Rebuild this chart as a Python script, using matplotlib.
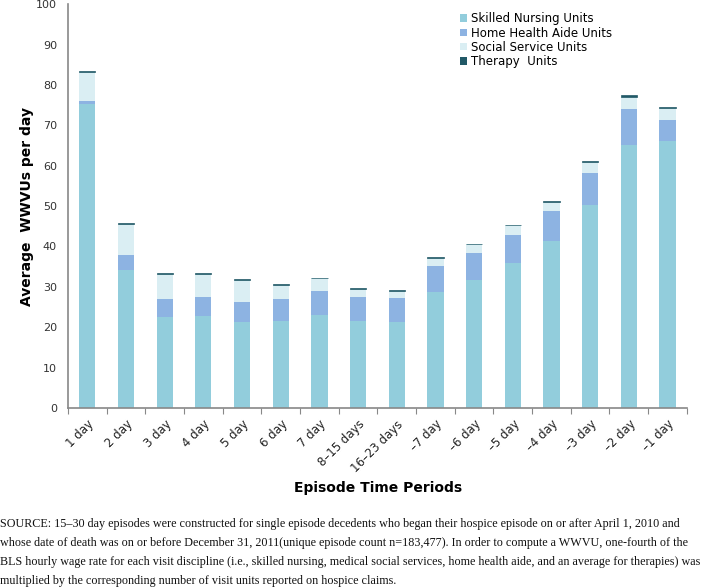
import numpy as np
import matplotlib
matplotlib.use("Agg")
import matplotlib.pyplot as plt
from matplotlib.patches import Patch

periods = ["1 day", "2 day", "3 day", "4 day", "5 day", "6 day", "7 day",
           "8\u201315 days", "16\u201323 days", "\u20137 day", "\u20136 day",
           "\u20135 day", "\u20134 day", "\u20133 day", "\u20132 day", "\u20131 day"]

# stacked segments
skilled = [75.3, 34.2, 22.6, 22.8, 21.3, 21.5, 23.0, 21.6, 21.4, 28.7, 31.7, 35.9, 41.3, 50.2, 65.1, 66.1]
home_aide = [0.7, 3.7, 4.3, 4.7, 5.0, 5.4, 6.1, 5.9, 5.9, 6.4, 6.7, 7.0, 7.4, 8.0, 8.9, 5.2]
social = [7.3, 7.6, 6.2, 5.8, 5.4, 3.5, 3.0, 2.0, 1.7, 2.1, 2.1, 2.3, 2.4, 2.8, 3.1, 3.1]
therapy = [0.25, 0.25, 0.25, 0.2, 0.2, 0.2, 0.2, 0.2, 0.2, 0.2, 0.2, 0.2, 0.2, 0.2, 0.3, 0.2]

series = [("Skilled Nursing Units", skilled, "#92CDDC"),
          ("Home Health Aide Units", home_aide, "#8DB3E2"),
          ("Social Service Units", social, "#DAEEF3"),
          ("Therapy  Units", therapy, "#215967")]

footnote = [
    "SOURCE: 15\u201330 day episodes were constructed for single episode decedents who began their hospice episode on or after April 1, 2010 and",
    "whose date of death was on or before December 31, 2011(unique episode count n=183,477). In order to compute a WWVU, one-fourth of the",
    "BLS hourly wage rate for each visit discipline (i.e., skilled nursing, medical social services, home health aide, and an average for therapies) was",
    "multiplied by the corresponding number of visit units reported on hospice claims.",
]

fig = plt.figure(figsize=(7.04, 5.88), dpi=100)
ax = fig.add_axes([0.0966, 0.306, 0.879, 0.687])

x = np.arange(len(periods))
bottom = np.zeros(len(periods))
for name, vals, col in series:
    lw = 0.5 if name.startswith("Therapy") else 0
    ax.bar(x, vals, width=0.42, bottom=bottom, color=col, label=name,
           edgecolor=col, linewidth=lw)
    bottom += np.array(vals)

ax.set_xlim(-0.5, len(periods) - 0.5)
ax.set_ylim(0, 100)
ax.set_yticks(range(0, 101, 10))
ax.tick_params(axis="y", length=0, labelsize=8, colors="#333333", pad=8)

# category boundaries get the tick marks, labels sit at bar centres
ax.set_xticks(np.arange(-0.5, len(periods) + 0.5, 1))
ax.set_xticklabels([])
ax.tick_params(axis="x", which="major", length=4, color="#888888", direction="out")
ax.set_xticks(x, minor=True)
ax.set_xticklabels(periods, minor=True, rotation=45, ha="right", rotation_mode="anchor",
                   fontsize=8.5, color="#222222")
ax.tick_params(axis="x", which="minor", length=0, pad=7)

for s in ["top", "right"]:
    ax.spines[s].set_visible(False)
for s in ["left", "bottom"]:
    ax.spines[s].set_color("#888888")
    ax.spines[s].set_linewidth(1.2)

ax.set_ylabel("Average  WWVUs per day", fontsize=10, fontweight="bold")
ax.yaxis.set_label_coords(-0.055, 0.5)
fig.text(0.537, 1 - 488 / 588, "Episode Time Periods", fontsize=10, fontweight="bold",
         ha="center", va="center")

handles = [Patch(facecolor=c, label=n) for n, v, c in series]
ax.legend(handles=handles, loc="upper left", bbox_to_anchor=(0.62, 1.0), frameon=False,
          fontsize=8.5, handlelength=0.6, handleheight=0.6, handletextpad=0.3,
          labelspacing=0.1, borderaxespad=0.3)

for i, line in enumerate(footnote):
    fig.text(0.0, 1 - (524 + 19 * i) / 588, line, fontsize=8.75, family="Liberation Serif",
             ha="left", va="center", color="#111111")

fig.savefig("out.png", dpi=100)
